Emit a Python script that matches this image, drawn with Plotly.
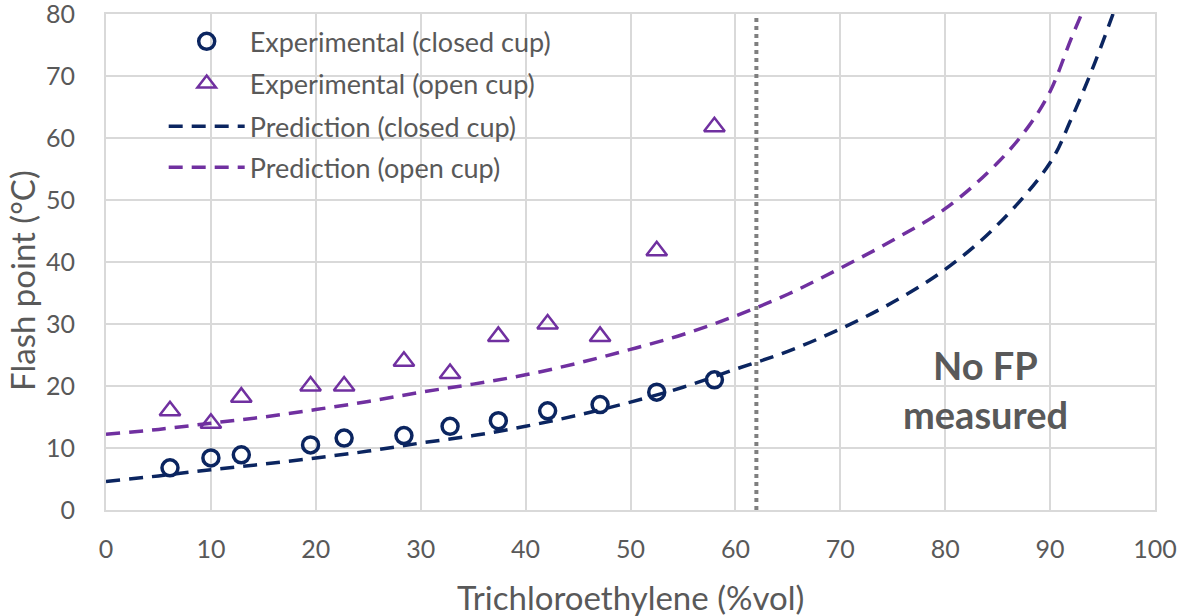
import plotly.graph_objects as go

# Experimental data
x_exp = [6.1, 10.0, 12.9, 19.5, 22.7, 28.4, 32.8, 37.4, 42.1, 47.1, 52.5, 58.0]
fp_closed = [6.8, 8.4, 8.9, 10.5, 11.6, 12.0, 13.5, 14.4, 16.0, 17.0, 19.0, 21.0]
fp_open = [16.0, 14.0, 18.2, 20.0, 20.0, 24.0, 22.0, 28.0, 30.0, 28.0, 41.8, 61.8]

# Prediction curves
x_pred_closed = [0, 5, 10, 15, 20, 25, 30, 35, 40, 45, 50, 55, 60, 65, 70, 75, 80, 85, 90, 92, 94, 96]
fp_pred_closed = [4.6, 5.5, 6.5, 7.4, 8.4, 9.5, 10.8, 12.0, 13.5, 15.3, 17.4, 19.8, 22.7, 25.6, 29.2, 33.5, 38.8, 46.0, 56.0, 63.0, 71.0, 80.0]
x_pred_open = [0, 5, 10, 15, 20, 25, 30, 35, 40, 45, 50, 55, 60, 65, 70, 75, 80, 85, 88, 90, 92, 93]
fp_pred_open = [12.2, 13.0, 14.0, 15.0, 16.2, 17.5, 19.0, 20.3, 21.8, 23.7, 25.9, 28.3, 31.3, 34.8, 39.0, 43.5, 48.6, 56.0, 62.0, 67.5, 76.0, 80.0]

limit_x = 62
limit_y = [0, 80]

NAVY = "#0B2560"
PURPLE = "#7030A0"
TXT = "#595959"
GRID = "#D9D9D9"
FONT = "Lato, Open Sans, sans-serif"
DASH = "14px,9px"

fig = go.Figure()
fig.add_trace(go.Scatter(x=x_exp, y=fp_closed, mode="markers", name="Experimental (closed cup)",
                         legend="legend",
                         marker=dict(symbol="circle-open", size=16, color=NAVY, line=dict(width=3.5, color=NAVY))))
fig.add_trace(go.Scatter(x=x_exp, y=fp_open, mode="markers", name="Experimental (open cup)",
                         legend="legend2",
                         marker=dict(symbol="triangle-up-open", size=18, color=PURPLE, line=dict(width=2.5, color=PURPLE))))
fig.add_trace(go.Scatter(x=x_pred_closed, y=fp_pred_closed, mode="lines", name="Prediction (closed cup)",
                         legend="legend3",
                         line=dict(color=NAVY, width=3.5, dash=DASH, shape="spline")))
fig.add_trace(go.Scatter(x=x_pred_open, y=fp_pred_open, mode="lines", name="Prediction (open cup)",
                         legend="legend4",
                         line=dict(color=PURPLE, width=3.5, dash=DASH, shape="spline")))
fig.add_trace(go.Scatter(x=[limit_x, limit_x], y=limit_y, mode="lines", showlegend=False,
                         line=dict(color="#7F7F7F", width=4, dash="dot")))

fig.add_annotation(x=83.8, y=19.4, text="<b>No FP<br>measured</b>", showarrow=False,
                   font=dict(size=38, color=TXT, family=FONT))

# axis titles
fig.add_annotation(xref="paper", yref="paper", x=0.5, y=-0.175, xanchor="center", yanchor="middle",
                   text="Trichloroethylene (%vol)", showarrow=False,
                   font=dict(size=33, color=TXT, family=FONT))
fig.add_annotation(xref="paper", yref="paper", x=-0.080, y=0.462, xanchor="center", yanchor="middle",
                   text="Flash point (°C)", textangle=-90, showarrow=False,
                   font=dict(size=33, color=TXT, family=FONT))

# white box behind legend (covers gridlines like the original legend background)
fig.add_shape(type="rect", xref="paper", yref="paper", x0=0.05, x1=0.435, y0=0.655, y1=0.985,
              fillcolor="white", line=dict(width=0), layer="between")

leg_common = dict(x=0.055, xanchor="left", yanchor="middle", bgcolor="rgba(0,0,0,0)",
                  font=dict(size=27, color=TXT, family=FONT), itemwidth=76, itemsizing="trace")
fig.update_layout(
    width=1180, height=616,
    margin=dict(l=106, r=25, t=14, b=106),
    paper_bgcolor="white", plot_bgcolor="white",
    font=dict(family=FONT, color=TXT, size=25),
    legend=dict(y=0.944, **leg_common),
    legend2=dict(y=0.859, **leg_common),
    legend3=dict(y=0.773, **leg_common),
    legend4=dict(y=0.690, **leg_common),
    showlegend=True,
)
fig.update_xaxes(range=[0, 100], dtick=10, showgrid=True, gridcolor=GRID, gridwidth=2,
                 showline=True, linecolor=GRID, linewidth=2, mirror=True, zeroline=False,
                 automargin=False, ticks="", ticklabelstandoff=16, ticklabeloverflow="allow",
                 tickfont=dict(size=25, color=TXT))
fig.update_yaxes(range=[0, 80], dtick=10, showgrid=True, gridcolor=GRID, gridwidth=2,
                 showline=True, linecolor=GRID, linewidth=2, mirror=True, zeroline=False,
                 automargin=False, ticks="", ticklabelstandoff=24, ticklabeloverflow="allow",
                 tickfont=dict(size=25, color=TXT))

fig.write_html("out.html", config={"displayModeBar": False},
               post_script="document.body.style.margin='0px';document.body.style.overflow='hidden';")
